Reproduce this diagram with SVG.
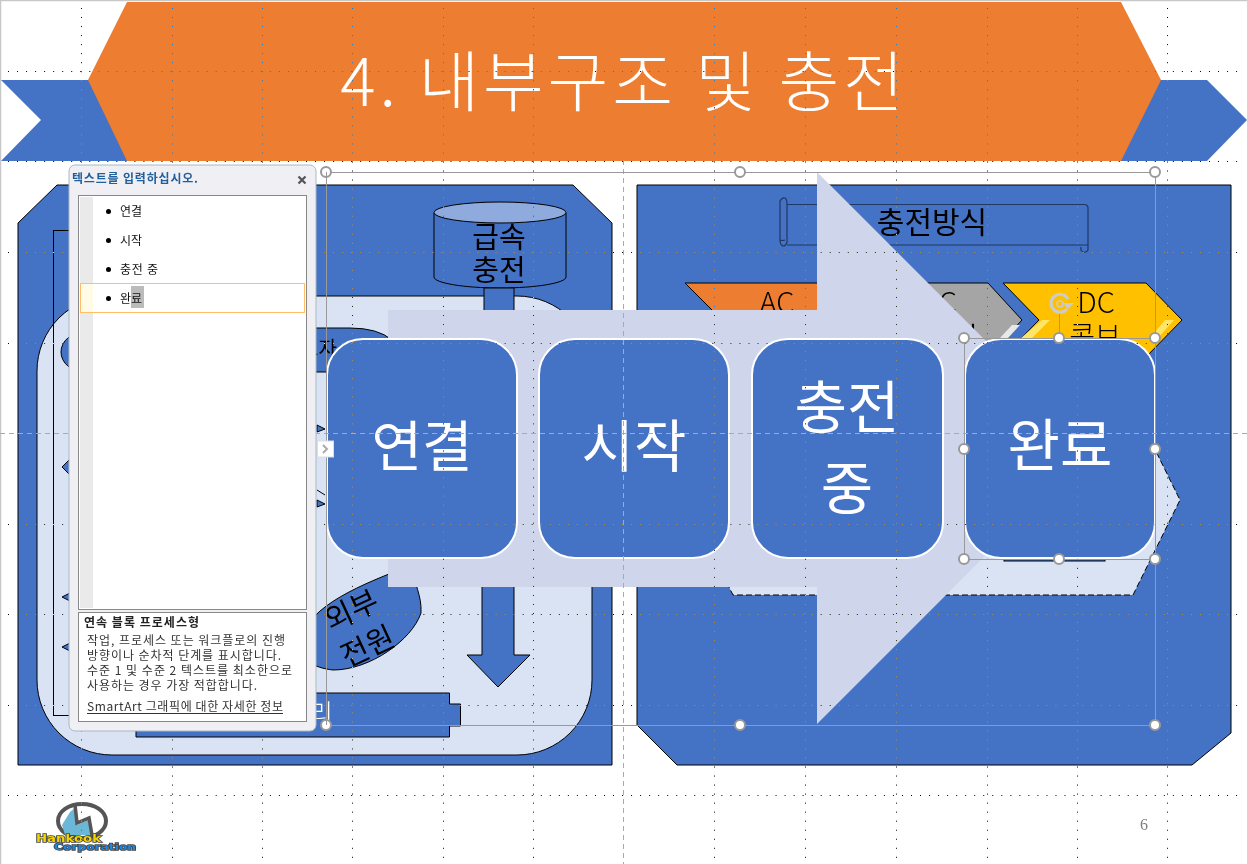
<svg xmlns="http://www.w3.org/2000/svg" width="1247" height="864" viewBox="0 0 1247 864">
<style>
text{font-family:"Noto Sans CJK KR","Noto Sans",sans-serif}
.sh{fill:#4472C4;stroke:#000;stroke-width:1}
.lb{fill:#000;text-anchor:middle;font-size:29px}
.lt{fill:#000;text-anchor:middle;font-size:29px;font-weight:300}
.box{fill:#4472C4;stroke:#fff;stroke-width:2}
.bt{fill:#fff;text-anchor:middle;font-size:57px}
.hd{fill:#fff;stroke:#999;stroke-width:2}
.sel{fill:none;stroke:#999;stroke-width:1}
.grid{fill:none;stroke:#fff;stroke-width:1;stroke-dasharray:1 8.03;mix-blend-mode:difference}
.guide{fill:none;stroke:#aaa;stroke-width:1;stroke-dasharray:5 4}
.pt{font-size:12px;fill:#111}
.pd{font-size:12px;fill:#333}
.logo{font-family:"DejaVu Sans",sans-serif;font-size:10px;font-weight:700;stroke:#444;stroke-width:1.5;paint-order:stroke}
</style>
<rect width="1247" height="864" fill="#fff"/>
<path d="M0.5 0V864M0 0.5H1247" stroke="#c8c8c8" stroke-width="1.5" fill="none"/>

<g id="banner">
<polygon points="1,80 95,80 130,161 1,161 41,120" fill="#4472C4"/>
<polygon points="1155,80 1207,80 1247,120 1207,161 1115,161" fill="#4472C4"/>
<polygon points="127,2 1121,2 1161,80 1121,161 127,161 88,80" fill="#ED7D31"/>
<text x="624" y="106" fill="#fff" text-anchor="middle" font-size="66" font-weight="300" letter-spacing="3.9">4. 내부구조 및 충전</text>
</g>

<g id="panel-left">
<polygon points="18,223 57,185 573,185 612,223 612,765 18,765" class="sh"/>
<rect x="37" y="296" width="555" height="459" rx="75" fill="#DAE3F3" stroke="#000" stroke-width="1"/>
<rect x="53.500" y="230.500" width="262" height="485" fill="none" stroke="#000" stroke-width="1"/>
<ellipse cx="85" cy="352" rx="24" ry="20" class="sh"/>
<polygon points="62,467 72,457 72,477" class="sh"/>
<polygon points="62,597 72,592 72,602" class="sh"/>
<polygon points="62,647 72,642 72,652" class="sh"/>
<path d="M290 328H350Q378 328 392 340V372H290Z" class="sh"/>
<text x="300" y="356" font-size="20" fill="#000">트자</text>
<polygon points="317,425 325,429 317,432" class="sh"/>
<path d="M317 490L325 495" stroke="#000" stroke-width="1"/>
<polygon points="317,500 325,504 317,507" class="sh"/>
<g id="cylinder">
<path d="M434 213V277C434 283 464 288 500 288S566 283 566 277V213Z" class="sh"/>
<text x="499" y="248" class="lb">급속</text>
<text x="499" y="281" class="lb">충전</text>
<ellipse cx="500" cy="212.500" rx="66" ry="10.500" fill="#8FAADC" stroke="#000" stroke-width="1"/>
</g>
<rect x="484" y="288" width="30" height="30" class="sh"/>
<polygon points="482,580 514,580 514,655 530,655 498,687 467,655 482,655" class="sh"/>
<g id="external-power">
<path d="M300 640C310 605 360 585 412 565C414 585 422 595 421 613C412 640 370 670 333 670C315 668 297 660 300 640Z" class="sh"/>
<text transform="translate(356 620) rotate(-25)" class="lb" style="font-size:30px">외부</text>
<text transform="translate(372 656) rotate(-25)" class="lb" style="font-size:30px">전원</text>
</g>
<g id="battery">
<path d="M136 693H449.500V704H460.500V726H449.500V737H136Z" class="sh"/>
<text x="333" y="723" font-size="26" fill="#fff" text-anchor="end" font-weight="300">리</text>
</g>
</g>

<g id="panel-right">
<polygon points="637,185 1231,185 1231,733 1192,765 677,765 637,725" class="sh"/>
<g id="scroll">
<path d="M787 204.500H1084Q1088 204.500 1088 208V245M787 245H1088V250Q1086 253 1083 252Q1080 251 1081 247M787 204V242Q786 246 783 246Q780 245 780 240V201Q782 197 785 198Q787 199 787 204ZM780 240Q782 241 785 240" fill="none" stroke="#1F3864" stroke-width="1.200"/>
<text x="932" y="233" class="lb" style="font-size:30px">충전방식</text>
</g>
<g id="chevron-ac">
<polygon points="685,283 850,283 880,320 850,357 685,357 722,320" fill="#ED7D31" stroke="#000" stroke-width="1"/>
<text x="777" y="313" class="lt">AC</text>
</g>
<g id="chevron-dc">
<polygon points="835,283 988,283 1022,320 988,357 835,357 872,320" fill="#A5A5A5" stroke="#000" stroke-width="1"/>
<polygon points="1000,338 1012,325 1020,325 1008,338" fill="#E8E8E8"/>
<text x="957" y="313" class="lt" style="text-anchor:end">DC</text>
<text x="978" y="344" class="lb" style="text-anchor:end;font-size:26px">보</text>
</g>
<g id="chevron-combo">
<polygon points="1003,283 1146,283 1182,320 1146,357 1003,357 1039,320" fill="#FFC000" stroke="#000" stroke-width="1"/>
<polygon points="1021,338 1042,320 1050,320 1032,338" fill="#FFE566"/>
<polygon points="1150,338 1165,320 1174,320 1158,338" fill="#FFE566"/>
<text x="1096" y="313" class="lt">DC</text>
<text x="1095" y="347" class="lb" style="font-size:28px;font-weight:300">콤보</text>
</g>
<polygon points="700,405 1133,405 1180,500 1133,595 733,595 700,530" fill="#DAE3F3" stroke="#000" stroke-width="1" stroke-dasharray="6 3"/>
<rect x="1004" y="470" width="101" height="91" class="sh"/>
</g>

<g id="process-arrow">
<polygon points="388,310 817,310 817,172 1093,448 817,724 817,587 388,587" fill="#CFD5EA"/>
</g>
<g id="step-1"><rect x="327" y="339" width="190" height="219" rx="36" class="box"/><text x="422" y="466" class="bt" style="font-size:55px">연결</text></g>
<g id="step-2"><rect x="539" y="339" width="190" height="219" rx="36" class="box"/><text x="634" y="467" class="bt">시작</text></g>
<g id="step-3"><rect x="752" y="339" width="191" height="219" rx="36" class="box"/><text x="847" y="428" class="bt">충전</text><text x="847" y="509" class="bt">중</text></g>
<g id="step-4"><rect x="965" y="339" width="190" height="219" rx="36" class="box"/><text x="1060" y="466" class="bt">완료</text></g>

<g id="footer">
<ellipse cx="82" cy="821" rx="24" ry="17" fill="#fff" stroke="#555" stroke-width="4"/>
<polygon points="70,812 75,808 77,825 88,820 91,835 65,835 62,825" fill="#6BB7D8"/>
<path d="M75 805L77 823L89 818L92 835" fill="none" stroke="#555" stroke-width="3.500"/>
<text x="36" y="842" class="logo" fill="#F2D400" textLength="65" lengthAdjust="spacingAndGlyphs">Hankook</text>
<text x="54" y="850" class="logo" fill="#1E88E0" textLength="82" lengthAdjust="spacingAndGlyphs" style="font-size:9px">Corporation</text>
<text x="1144" y="830" font-size="16" fill="#7F7F7F" text-anchor="middle" style="font-family:'Liberation Serif',serif">6</text>
</g>

<g id="grid">
<path class="grid" d="M8 71.500H1240M8 161.500H1240M8 252.500H1240M8 343.500H1240M8 524.500H1240M8 614.500H1240M8 705.500H1240M8 795.500H1240"/>
<path class="grid" d="M81.500 8V860M172.500 8V860M262.500 8V860M352.500 8V860M443.500 8V860M533.500 8V860M714.500 8V860M805.500 8V860M896.500 8V860M987.500 8V860M1077.500 8V860M1167.500 8V860"/>
<path class="guide" d="M0 433.500H1247M623.500 160V864"/>
</g>

<g id="selection">
<rect x="326.500" y="172.500" width="829" height="553" class="sel"/>
<rect x="964.500" y="338.500" width="191" height="221" class="sel"/>
<path class="sel" d="M1059.500 312V338"/>
<circle cx="326" cy="172" r="5" class="hd"/><circle cx="740" cy="172" r="5" class="hd"/><circle cx="1155" cy="172" r="5" class="hd"/>
<circle cx="326" cy="725" r="5" class="hd"/><circle cx="740" cy="725" r="5" class="hd"/><circle cx="1155" cy="725" r="5" class="hd"/>
<circle cx="964" cy="338" r="5" class="hd"/><circle cx="1059" cy="338" r="5" class="hd"/><circle cx="1155" cy="338" r="5" class="hd"/>
<circle cx="964" cy="449" r="5" class="hd"/><circle cx="1155" cy="449" r="5" class="hd"/>
<circle cx="964" cy="559" r="5" class="hd"/><circle cx="1059" cy="559" r="5" class="hd"/><circle cx="1155" cy="559" r="5" class="hd"/>
<path d="M1068 299A9 9 0 1 0 1067 309" fill="none" stroke="#ccc" stroke-width="3"/>
<circle cx="1060" cy="304" r="3" fill="none" stroke="#ccc" stroke-width="1.500"/>
<polygon points="1063,303 1074,303 1068,309" fill="#ccc"/>
</g>

<g id="text-pane">
<rect x="69" y="165" width="247" height="566" rx="6" fill="#EFEFF4" stroke="#A8BAC4"/>
<text x="72" y="183" font-size="12" font-weight="700" fill="#1F5F9C" textLength="126">텍스트를 입력하십시오.</text>
<path d="M298.500 176.500L305.500 183.500M305.500 176.500L298.500 183.500" stroke="#555" stroke-width="2.200"/>
<rect x="78.500" y="195.500" width="228" height="414" fill="#fff" stroke="#888"/>
<rect x="80" y="197" width="13" height="411" fill="#EAEAEA"/>
<rect x="80.500" y="283.500" width="224" height="29" fill="#fff" stroke="#FFBD69"/>
<rect x="81" y="284" width="12" height="28" fill="#FFFBE6"/>
<rect x="131" y="286" width="13" height="22" fill="#BBB"/>
<circle cx="108.500" cy="211.500" r="2.500" fill="#000"/><circle cx="108.500" cy="240.500" r="2.500" fill="#000"/><circle cx="108.500" cy="269.500" r="2.500" fill="#000"/><circle cx="108.500" cy="298.500" r="2.500" fill="#000"/>
<text x="120" y="216" class="pt">연결</text>
<text x="120" y="245" class="pt">시작</text>
<text x="120" y="274" class="pt" textLength="38">충전 중</text>
<text x="120" y="303" class="pt">완료</text>
<rect x="78.500" y="612.500" width="228" height="109" fill="#fff" stroke="#888"/>
<text x="84" y="627" font-size="12" font-weight="700" fill="#222" textLength="115">연속 블록 프로세스형</text>
<text x="87" y="645" class="pd" textLength="198">작업, 프로세스 또는 워크플로의 진행</text>
<text x="87" y="660" class="pd" textLength="194">방향이나 순차적 단계를 표시합니다.</text>
<text x="87" y="675" class="pd" textLength="205">수준 1 및 수준 2 텍스트를 최소한으로</text>
<text x="87" y="690" class="pd" textLength="170">사용하는 경우 가장 적합합니다.</text>
<text x="87" y="711" class="pd" textLength="196">SmartArt 그래픽에 대한 자세한 정보</text>
<path d="M87 713.500H283" stroke="#333"/>
</g>
<path class="sel" d="M326.500 172V725"/>
<g id="pane-toggle">
<rect x="317.500" y="441" width="16" height="16" fill="#fff" stroke="#ddd"/>
<path d="M323 445L327 449L323 453" fill="none" stroke="#aaa" stroke-width="2"/>
</g>
</svg>
